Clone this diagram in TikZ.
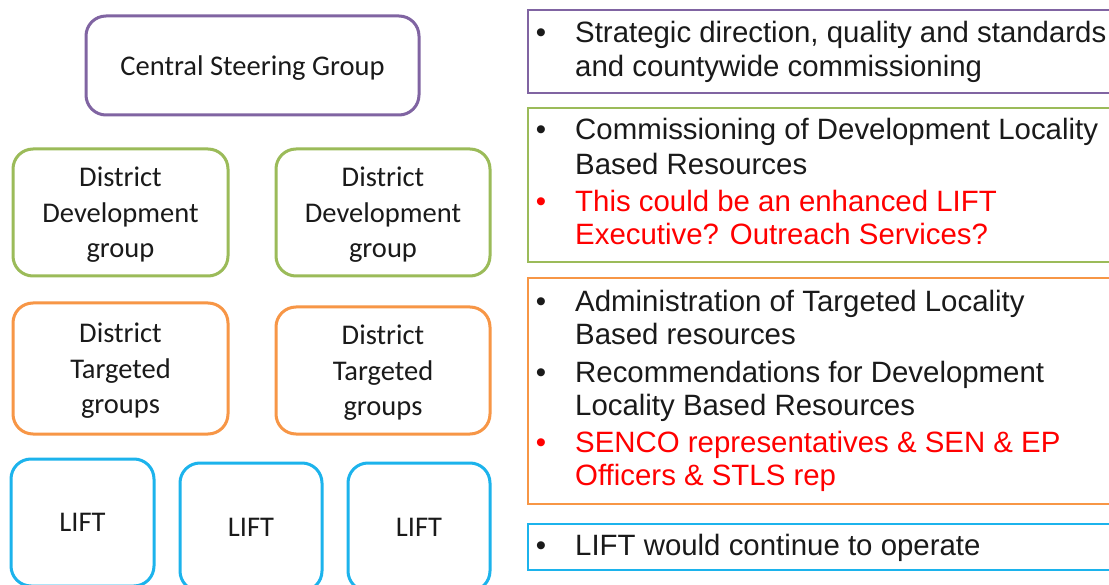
\documentclass[tikz,border=0pt]{standalone}
\usepackage{fontspec}
\setmainfont{Carlito}
\newfontfamily\arialfont{Liberation Sans}
\definecolor{grpPurple}{HTML}{8064A2}
\definecolor{grpGreen}{HTML}{9BBB59}
\definecolor{grpOrange}{HTML}{F79646}
\definecolor{grpBlue}{HTML}{1CB3EC}
\definecolor{noteRed}{HTML}{FF0000}
\definecolor{noteBlack}{HTML}{1A1A1A}
\begin{document}
\begin{tikzpicture}[x=1pt, y=-1pt,
        group/.style={draw, rounded corners=20pt, line width=3pt, align=center, inner sep=0pt,
            text depth=0pt, text=noteBlack, font=\fontsize{28.5}{35.5}\selectfont},
        rolebox/.style={draw, line width=2pt, anchor=north west, inner sep=0pt},
        item/.style={anchor=base west, inner sep=0pt, font=\arialfont\fontsize{29.4}{35}\selectfont},
        bulletdot/.style={anchor=base, inner sep=0pt, font=\arialfont\fontsize{29.4}{35}\selectfont}]
            \clip (0, 0) rectangle (1109, 585);
            \fill[white] (0, 0) rectangle (1109, 585);

            \node[group, draw=grpPurple, minimum width=333, minimum height=99] (central) at (252.5, 65.5) {Central Steering Group};

            \node[group, draw=grpGreen, minimum width=215, minimum height=127] (devL) at (120.5, 212.5) {District\\Development\\group};
            \node[group, draw=grpGreen, minimum width=214, minimum height=127] (devR) at (383, 212.5) {District\\Development\\group};

            \node[group, draw=grpOrange, minimum width=215, minimum height=131] (targL) at (120.5, 368.5) {District\\Targeted\\groups};
            \node[group, draw=grpOrange, minimum width=214, minimum height=127] (targR) at (383, 370.5) {District\\Targeted\\groups};

            \node[group, draw=grpBlue, minimum width=143, minimum height=127] (liftA) at (82.5, 522.5) {LIFT};
            \node[group, draw=grpBlue, minimum width=142, minimum height=128] (liftB) at (251, 527) {LIFT};
            \node[group, draw=grpBlue, minimum width=142, minimum height=128] (liftC) at (419, 527) {LIFT};

            \node[rolebox, draw=grpPurple, minimum width=600, minimum height=83] (stratBox) at (527, 9) {};
            \node[rolebox, draw=grpGreen, minimum width=600, minimum height=154] (commBox) at (527, 107) {};
            \node[rolebox, draw=grpOrange, minimum width=600, minimum height=226] (adminBox) at (527, 277) {};
            \node[rolebox, draw=grpBlue, minimum width=600, minimum height=46] (liftBox) at (527, 523) {};

            \foreach \y/\c [count=\i] in {43/noteBlack, 140/noteBlack, 212/noteRed, 312/noteBlack, 382/noteBlack, 452/noteRed, 555/noteBlack}
                \node[bulletdot, text=\c] (dot\i) at (541, \y) {•};

            \foreach \y/\c/\t [count=\i] in {
                    43/noteBlack/{Strategic direction, quality and standards},
                    77/noteBlack/{and countywide commissioning},
                    140/noteBlack/{Commissioning of Development Locality},
                    175/noteBlack/{Based Resources},
                    212/noteRed/{This could be an enhanced LIFT},
                    245/noteRed/{Executive? Outreach Services?},
                    312/noteBlack/{Administration of Targeted Locality},
                    345/noteBlack/{Based resources},
                    382/noteBlack/{Recommendations for Development},
                    415/noteBlack/{Locality Based Resources},
                    452/noteRed/{SENCO representatives \& SEN \& EP},
                    485/noteRed/{Officers \& STLS rep},
                    555/noteBlack/{LIFT would continue to operate}}
                \node[item, text=\c] (line\i) at (575, \y) {\t};
        \end{tikzpicture}
\end{document}
